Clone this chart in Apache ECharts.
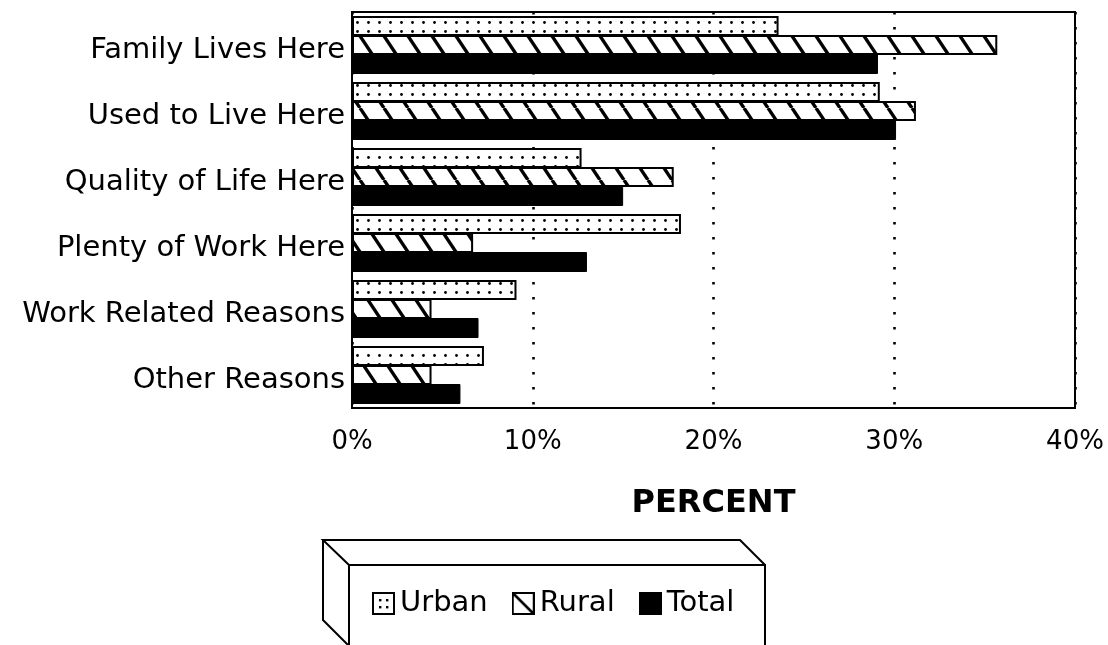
<!DOCTYPE html>
<html>
<head>
<meta charset="utf-8">
<script src="https://cdn.jsdelivr.net/npm/echarts@6/dist/echarts.min.js"></script>
<style>
  html, body { margin: 0; padding: 0; background: #ffffff; }
  #chart { width: 1108px; height: 645px; }
</style>
</head>
<body>
<div id="chart"></div>
<script>
// Reasons for living in the area, by residence type (percent)
const categories = [
  'Family Lives Here',
  'Used to Live Here',
  'Quality of Life Here',
  'Plenty of Work Here',
  'Work Related Reasons',
  'Other Reasons'
];
const urban = [23.6, 29.2, 12.7, 18.2, 9.1, 7.3];
const rural = [35.7, 31.2, 17.8, 6.7, 4.4, 4.4];
const total = [29.1, 30.1, 15.0, 13.0, 7.0, 6.0];
const seriesNames = ['Urban', 'Rural', 'Total'];
const xTicks = { min: 0, max: 40, step: 10 };

const FONT = '"DejaVu Sans", sans-serif';

// Fill patterns: dotted for urban, back-slash hatching for rural
function dotTile() {
  const c = document.createElement('canvas');
  c.width = 11; c.height = 9;
  const g = c.getContext('2d');
  g.fillStyle = '#fff'; g.fillRect(0, 0, 11, 9);
  g.fillStyle = '#000';
  g.beginPath(); g.arc(5.5, 4.5, 1.4, 0, Math.PI * 2); g.fill();
  return c;
}
function hatchTile() {
  const w = 24, h = 36;
  const c = document.createElement('canvas');
  c.width = w; c.height = h;
  const g = c.getContext('2d');
  g.fillStyle = '#fff'; g.fillRect(0, 0, w, h);
  g.strokeStyle = '#000'; g.lineWidth = 3.4;
  for (const o of [-w, 0, w]) {
    g.beginPath(); g.moveTo(o, 0); g.lineTo(o + w, h); g.stroke();
  }
  return c;
}
// Small legend swatches
function legendIcon(kind) {
  const s = 23;
  const c = document.createElement('canvas');
  c.width = s; c.height = s;
  const g = c.getContext('2d');
  g.fillStyle = kind === 'Total' ? '#000' : '#fff';
  g.fillRect(0, 0, s, s);
  g.strokeStyle = '#000'; g.lineWidth = 2;
  g.strokeRect(1, 1, s - 2, s - 2);
  g.fillStyle = '#000';
  if (kind === 'Urban') {
    for (const [x, y] of [[8, 8], [15, 8], [8, 15], [15, 15]]) {
      g.fillRect(x - 1, y - 1, 2.4, 2.4);
    }
  } else if (kind === 'Rural') {
    g.lineWidth = 2.5;
    g.beginPath(); g.moveTo(2, 2); g.lineTo(s - 2, s - 2); g.stroke();
  }
  return 'image://' + c.toDataURL();
}

const urbanFill = { image: dotTile(), repeat: 'repeat' };
const ruralFill = { image: hatchTile(), repeat: 'repeat' };

const chart = echarts.init(document.getElementById('chart'), null, { renderer: 'canvas' });

const barBase = { type: 'bar', barWidth: 20, barGap: '-5%', silent: true };

// 3-D legend box drawn as outlines
const boxLine = { stroke: '#000', lineWidth: 2, fill: null };
const graphics = [
  { type: 'polyline', shape: { points: [[349, 565], [323, 540], [740, 540], [765, 565]] }, style: boxLine },
  { type: 'polyline', shape: { points: [[323, 540], [323, 620], [349, 646]] }, style: boxLine },
  { type: 'polyline', shape: { points: [[349, 650], [349, 565], [765, 565], [765, 650]] }, style: boxLine }
];

chart.setOption({
  backgroundColor: '#ffffff',
  animation: false,
  grid: {
    left: 352, right: 33, top: 12, bottom: 237,
    show: true, borderColor: '#000', borderWidth: 2, backgroundColor: 'transparent'
  },
  xAxis: {
    type: 'value',
    min: xTicks.min, max: xTicks.max, interval: xTicks.step,
    axisLine: { show: true, lineStyle: { color: '#000', width: 2 } },
    axisTick: { show: false },
    axisLabel: {
      formatter: '{value}%', color: '#000', fontFamily: FONT, fontSize: 26, margin: 21
    },
    splitLine: {
      show: true,
      lineStyle: { color: '#000', width: 2.6, type: [2.6, 12.4] }
    },
    name: 'PERCENT',
    nameLocation: 'middle',
    nameGap: 80,
    nameTextStyle: { color: '#000', fontFamily: FONT, fontSize: 32, fontWeight: 'bold' }
  },
  yAxis: {
    type: 'category',
    data: categories,
    inverse: true,
    axisLine: { show: true, lineStyle: { color: '#000', width: 2 } },
    axisTick: { show: false },
    axisLabel: {
      margin: 7,
      formatter: v => '{c|' + v + '}',
      rich: {
        c: { color: '#000', fontFamily: FONT, fontSize: 29, padding: [10, 0, 0, 0] }
      }
    }
  },
  legend: {
    left: 367, top: 584,
    itemWidth: 23, itemHeight: 23, itemGap: 24,
    textStyle: { color: '#000', fontFamily: FONT, fontSize: 29 },
    data: seriesNames.map(n => ({ name: n, icon: legendIcon(n) })),
    selectedMode: false
  },
  series: [
    Object.assign({}, barBase, {
      name: seriesNames[0], data: urban,
      itemStyle: { color: urbanFill, borderColor: '#000', borderWidth: 2 }
    }),
    Object.assign({}, barBase, {
      name: seriesNames[1], data: rural,
      itemStyle: { color: ruralFill, borderColor: '#000', borderWidth: 2 }
    }),
    Object.assign({}, barBase, {
      name: seriesNames[2], data: total,
      itemStyle: { color: '#000', borderColor: '#000', borderWidth: 1 }
    })
  ],
  graphic: graphics
});
</script>
</body>
</html>
